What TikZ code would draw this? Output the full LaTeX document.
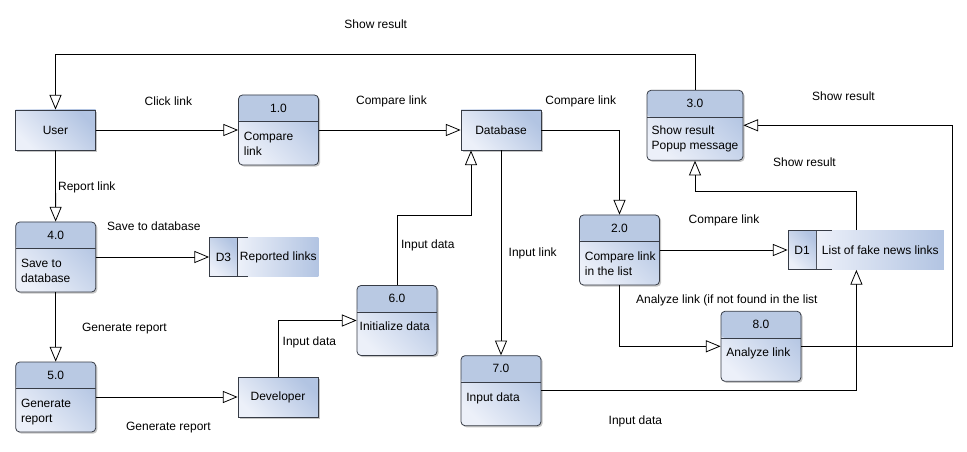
\documentclass[tikz,border=0pt]{standalone}
\usepackage{fontspec}
\setmainfont{Liberation Sans}
\usetikzlibrary{arrows.meta, positioning, shadows}

\definecolor{bord}{RGB}{55,60,70}
\definecolor{hdr}{RGB}{185,201,227}
\definecolor{bdark}{RGB}{178,196,226}
\definecolor{blite}{RGB}{236,240,249}

\begin{document}
\begin{tikzpicture}[>={Triangle[length=11pt, width=9pt, fill=white]}, x=0.75pt, y=-0.75pt,
  font=\fontsize{9}{11.25}\selectfont, line width=0.6pt,
  shadowed/.style={drop shadow={shadow xshift=1.2pt, shadow yshift=-1.2pt, fill=black!50, opacity=0.45}},
  grad/.style={top color=bdark, bottom color=blite, shading angle=-45},
  ext/.style={draw=bord, rectangle, minimum width=60pt, minimum height=30pt, grad, shadowed},
  proc/.style={draw=bord, rectangle, rounded corners=3pt, minimum width=60pt, minimum height=52.5pt, grad, shadowed,
    path picture={\fill[hdr] (path picture bounding box.north west) rectangle ([yshift=-20pt]path picture bounding box.north east);
      \draw[bord] ([yshift=-20pt]path picture bounding box.north west) -- ([yshift=-20pt]path picture bounding box.north east);}},
  ptext/.style={anchor=north west, align=left, inner sep=1.5pt},
  sbox/.style={draw=bord, rectangle, minimum width=21pt, minimum height=29.25pt, inner sep=0pt, grad},
  stext/.style={rectangle, minimum height=29.25pt, inner sep=0pt, left color=blite, right color=bdark},
  lbl/.style={anchor=west, inner sep=0pt}]

\useasboundingbox (0,0) rectangle (967,452);

\node[ext] (User) at (55.5,130) {User};
\node[ext] (DB) at (501,130) {Database};
\node[ext] (Dev) at (278,397) {Developer};

\node[proc] (P1) at (278.5,130) {};
\node (P1n) at ([yshift=-10pt]P1.north) {1.0};
\node[ptext] (P1t) at ([xshift=2.5pt, yshift=-26pt]P1.north west) {Compare\\link};

\node[proc] (P2) at (619.5,250) {};
\node (P2n) at ([yshift=-10pt]P2.north) {2.0};
\node[ptext] (P2t) at ([xshift=2.5pt, yshift=-26pt]P2.north west) {Compare link\\in the list};

\node[proc, minimum width=72pt] (P3) at (695,125.3) {};
\node (P3n) at ([yshift=-10pt]P3.north) {3.0};
\node[ptext] (P3t) at ([xshift=2pt, yshift=-25pt]P3.north west) {Show result\\Popup message};

\node[proc] (P4) at (55.7,257) {};
\node (P4n) at ([yshift=-10pt]P4.north) {4.0};
\node[ptext] (P4t) at ([xshift=2.5pt, yshift=-26pt]P4.north west) {Save to\\database};

\node[proc] (P5) at (55.7,397) {};
\node (P5n) at ([yshift=-10pt]P5.north) {5.0};
\node[ptext] (P5t) at ([xshift=2.5pt, yshift=-26pt]P5.north west) {Generate\\report};

\node[proc] (P6) at (397,320.5) {};
\node (P6n) at ([yshift=-10pt]P6.north) {6.0};
\node[ptext] (P6t) at ([xshift=0.5pt, yshift=-26pt]P6.north west) {Initialize data};

\node[proc] (P7) at (501,390.7) {};
\node (P7n) at ([yshift=-10pt]P7.north) {7.0};
\node[ptext] (P7t) at ([xshift=2.5pt, yshift=-26pt]P7.north west) {Input data};

\node[proc] (P8) at (761,346.3) {};
\node (P8n) at ([yshift=-10pt]P8.north) {8.0};
\node[ptext] (P8t) at ([xshift=2.5pt, yshift=-26pt]P8.north west) {Analyze link};

\node[sbox] (D1) at (802,250) {D1};
\node[stext, minimum width=95.25pt, right=0pt of D1] (D1t) {List of fake news links};
\draw[bord] (D1.north east) -- ++(16,0);
\draw[bord] (D1.south east) -- ++(16,0);

\node[sbox] (D3) at (223.5,257) {D3};
\node[stext, minimum width=60pt, right=0pt of D3] (D3t) {Reported links};
\draw[bord] (D3.north east) -- ++(10,0);
\draw[bord] (D3.south east) -- ++(10,0);

\draw[->] (P3.north) -- ++(0,-35) -| (User.north);
\draw[->] (User) -- (P1);
\draw[->] (P1) -- (DB);
\draw[->] (DB.east) -| (P2.north);
\draw[->] (User) -- (P4);
\draw[->] (P4.east) -- (D3.west);
\draw[->] (P4) -- (P5);
\draw[->] (P5.east) -- (Dev.west);
\draw[->] (Dev.north) |- (P6.west);
\draw[->] (P6.north) -- ++(0,-70) -| ([xshift=-22.5pt]DB.south);
\draw[->] (DB.south) -- (P7.north);
\draw[->] (P2.east) -- (D1.west);
\draw[->] ([xshift=30pt]D1t.north west) -- ++(0,-39) -| (P3.south);
\draw[->] (P8.east) -- ++(151,0) |- (P3.east);
\draw[->] (P2.south) |- (P8.west);
\draw[->] (P7.east) -| ([xshift=30pt]D1t.south west);

\node[lbl] (L1) at (344,24) {Show result};
\node[lbl] (L2) at (144.3,101) {Click link};
\node[lbl] (L3) at (355.7,101) {Compare link};
\node[lbl] (L4) at (545,101) {Compare link};
\node[lbl] (L5) at (811.7,96) {Show result};
\node[lbl] (L6) at (772.7,162.7) {Show result};
\node[lbl] (L7) at (688.3,220.7) {Compare link};
\node[lbl] (L8) at (57.7,187.3) {Report link};
\node[lbl] (L9) at (106.7,226.7) {Save to database};
\node[lbl] (L10) at (81.7,328.3) {Generate report};
\node[lbl] (L11) at (125.7,427.7) {Generate report};
\node[lbl] (L12) at (282.3,342) {Input data};
\node[lbl] (L13) at (400.7,245) {Input data};
\node[lbl] (L14) at (508.3,253.3) {Input link};
\node[lbl] (L15) at (635.7,300) {Analyze link (if not found in the list};
\node[lbl] (L16) at (608.3,421) {Input data};

\end{tikzpicture}
\end{document}
